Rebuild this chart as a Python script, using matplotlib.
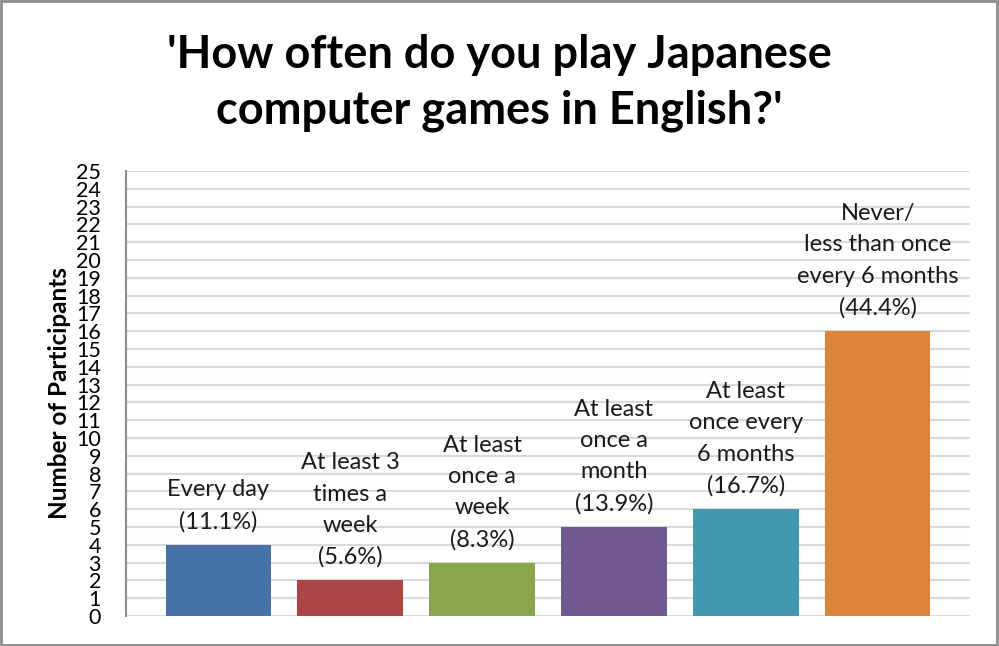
import matplotlib
matplotlib.use("Agg")
import matplotlib.pyplot as plt
from matplotlib.patches import Rectangle

plt.rcParams['font.family'] = ['Lato', 'DejaVu Sans']

categories = ["Every day\n(11.1%)",
              "At least 3\ntimes a\nweek\n(5.6%)",
              "At least\nonce a\nweek\n(8.3%)",
              "At least\nonce a\nmonth\n(13.9%)",
              "At least\nonce every\n6 months\n(16.7%)",
              "Never/\nless than once\nevery 6 months\n(44.4%)"]
counts = [4, 2, 3, 5, 6, 16]
colors = ["#4572a7", "#aa4643", "#89a54e", "#71588f", "#4198af", "#db843d"]
y_ticks = list(range(0, 26))

fig = plt.figure(figsize=(9.99, 6.46), dpi=100)
ax = fig.add_axes([126/999, 1 - 616/646, (970-126)/999, (616-171)/646])

x = list(range(len(counts)))
ax.bar(x, counts, width=0.8, color=colors, zorder=3)
for xi, c, lab in zip(x, counts, categories):
    ax.annotate(lab, (xi, c), xytext=(0, 9), textcoords='offset points',
                ha='center', va='bottom', fontsize=17, linespacing=1.6,
                color='#1a1a1a', zorder=4)

ax.set_xlim(-0.7, 5.7)
ax.set_ylim(0, 25)
ax.set_yticks(y_ticks)
ax.set_yticklabels([str(t) for t in y_ticks], fontsize=15.5)
ax.set_xticks([])
ax.tick_params(axis='y', length=0, pad=18)
ax.yaxis.grid(True, color='#d9d9d9', linewidth=1.5, zorder=0)
for s in ['top', 'right', 'bottom']:
    ax.spines[s].set_visible(False)
ax.spines['left'].set_color('#8c8c8c')
ax.spines['left'].set_linewidth(1.5)
ax.set_ylabel("Number of Participants", fontsize=17.5, fontweight='bold', labelpad=4)

fig.text(0.5, 1 - 83/646, "'How often do you play Japanese\ncomputer games in English?'",
         ha='center', va='center', fontsize=32.5, fontweight='bold', linespacing=1.4)

fig.patches.append(Rectangle((0.001, 0.002), 0.997, 0.996, transform=fig.transFigure,
                             fill=False, edgecolor='#8c8c8c', linewidth=2))

fig.savefig("out.png", dpi=100)
